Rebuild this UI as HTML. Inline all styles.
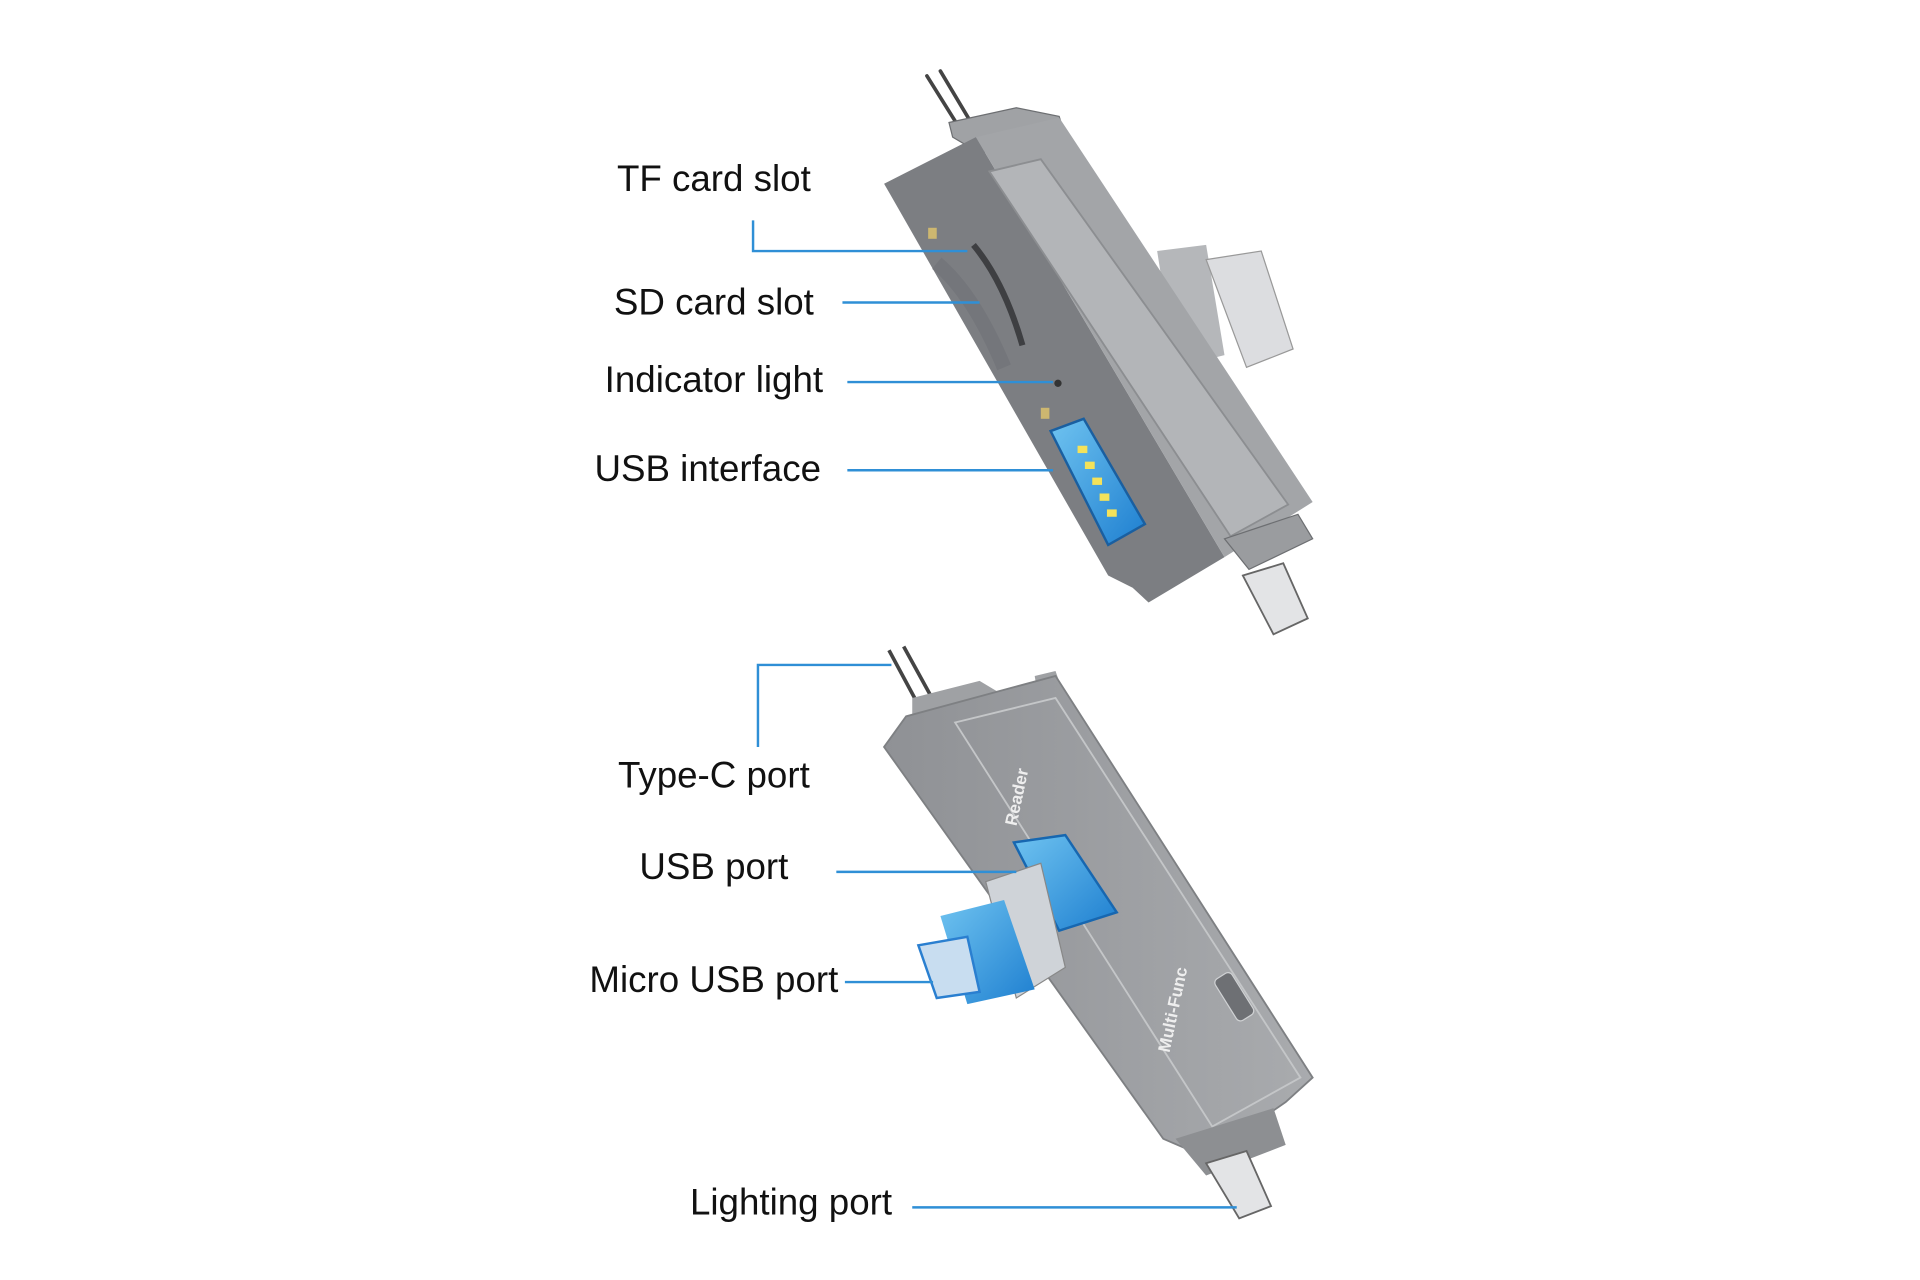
<!DOCTYPE html>
<html><head><meta charset="utf-8"><style>
html,body{margin:0;padding:0;background:#fff;}
svg{display:block;}
text{font-family:"Liberation Sans",sans-serif;fill:#111;}
</style></head><body>
<svg width="1920" height="1280" viewBox="0 0 1568 1045.3" xmlns="http://www.w3.org/2000/svg">
<defs>
<linearGradient id="lg" x1="0" y1="0" x2="1" y2="0">
<stop offset="0" stop-color="#8f9195"/><stop offset="1" stop-color="#a9abae"/></linearGradient>
<linearGradient id="blue" x1="0" y1="0" x2="1" y2="1">
<stop offset="0" stop-color="#6fc3f0"/><stop offset="1" stop-color="#1e7fd0"/></linearGradient>
</defs>

<!-- TOP DEVICE -->
<g stroke-linecap="round">
<line x1="757" y1="62" x2="782" y2="102" stroke="#444" stroke-width="3"/>
<line x1="768" y1="58" x2="793" y2="100" stroke="#444" stroke-width="3"/>
</g>
<polygon points="775,100 830,88 865,95 870,112 800,125 778,112" fill="#a0a2a5" stroke="#6d6f72" stroke-width="1"/>
<polygon points="945,205 985,200 1000,290 960,300" fill="#b5b7ba"/>
<polygon points="985,212 1030,205 1056,285 1018,300" fill="#dcdde0" stroke="#999" stroke-width="1"/>
<polygon points="722,150 797,112 1000,455 938,492 925,480 905,470" fill="#7c7e82"/>
<polygon points="797,112 865,96 1072,410 1000,455" fill="#a3a5a8"/>
<polygon points="808,140 850,130 1052,412 1005,438" fill="#b3b5b8" stroke="#8c8e91" stroke-width="1.5"/>
<polygon points="1000,440 1060,420 1072,440 1020,465" fill="#9a9c9f" stroke="#6d6f72"/>
<polygon points="1015,470 1048,460 1068,505 1040,518" fill="#e3e4e6" stroke="#666" stroke-width="1.5"/>
<path d="M795,200 Q820,230 835,282" stroke="#3e3f42" stroke-width="5" fill="none"/>
<path d="M765,215 Q795,240 820,300" stroke="#707276" stroke-width="12" fill="none" opacity="0.6"/>
<rect x="758" y="186" width="7" height="9" fill="#cdb770"/>
<rect x="850" y="333" width="7" height="9" fill="#cdb770"/>
<circle cx="864" cy="313" r="3" fill="#333"/>
<polygon points="858,352 885,342 935,428 905,445" fill="url(#blue)" stroke="#1a5fa0" stroke-width="2"/>
<g fill="#f4e25a"><rect x="880" y="364" width="8" height="6"/><rect x="886" y="377" width="8" height="6"/><rect x="892" y="390" width="8" height="6"/><rect x="898" y="403" width="8" height="6"/><rect x="904" y="416" width="8" height="6"/></g>

<!-- BOTTOM DEVICE -->
<g>
<line x1="726" y1="531" x2="748" y2="572" stroke="#444" stroke-width="3"/>
<line x1="738" y1="528" x2="760" y2="568" stroke="#444" stroke-width="3"/>
</g>
<polygon points="745,570 800,556 815,565 745,595" fill="#9fa1a4"/>
<polygon points="845,552 862,548 868,565 848,570" fill="#9fa1a4"/>
<polygon points="722,610 740,585 862,552 1072,880 1050,900 985,945 950,930" fill="url(#lg)" stroke="#7e8083" stroke-width="1.5"/>
<polygon points="780,590 862,570 1062,880 990,920" fill="none" stroke="#c4c6c8" stroke-width="1.5"/>
<polygon points="960,930 1040,905 1050,935 985,960" fill="#8d8f92"/>
<polygon points="985,950 1018,940 1038,985 1012,995" fill="#e3e4e6" stroke="#666" stroke-width="1.5"/>
<rect x="988" y="806" width="40" height="16" rx="4" fill="#6e7074" stroke="#d0d2d4" transform="rotate(58 1008 814)"/>
<text x="0" y="0" font-size="14" font-weight="bold" style="fill:#eee" transform="translate(955,860) rotate(-78)">Multi-Func</text>
<text x="0" y="0" font-size="14" font-weight="bold" style="fill:#eee" transform="translate(830,675) rotate(-78)">Reader</text>
<polygon points="828,688 870,682 912,745 865,760" fill="url(#blue)" stroke="#1767b0" stroke-width="2"/>
<polygon points="805,720 850,705 870,790 830,815" fill="#cfd3d8" stroke="#888"/>
<polygon points="768,748 820,735 845,808 790,820" fill="url(#blue)"/>
<polygon points="750,772 790,765 800,810 765,815" fill="#c8ddf0" stroke="#2a7fd0" stroke-width="2"/>

<!-- connectors -->
<g fill="none" stroke="#2f8fd6" stroke-width="2">
<polyline points="615,180 615,205 790,205"/>
<line x1="688" y1="247" x2="800" y2="247"/>
<line x1="692" y1="312" x2="860" y2="312"/>
<line x1="692" y1="384" x2="860" y2="384"/>
<polyline points="619,610 619,543 728,543"/>
<line x1="683" y1="712" x2="830" y2="712"/>
<line x1="690" y1="802" x2="762" y2="802"/>
<line x1="745" y1="986" x2="1010" y2="986"/>
</g>

<g font-size="30" text-anchor="middle">
<text x="583" y="156">TF card slot</text>
<text x="583" y="257">SD card slot</text>
<text x="583" y="320">Indicator light</text>
<text x="578" y="393">USB interface</text>
<text x="583" y="643">Type-C port</text>
<text x="583" y="718">USB port</text>
<text x="583" y="810">Micro USB port</text>
<text x="646" y="992">Lighting port</text>
</g>
</svg>
</body></html>
